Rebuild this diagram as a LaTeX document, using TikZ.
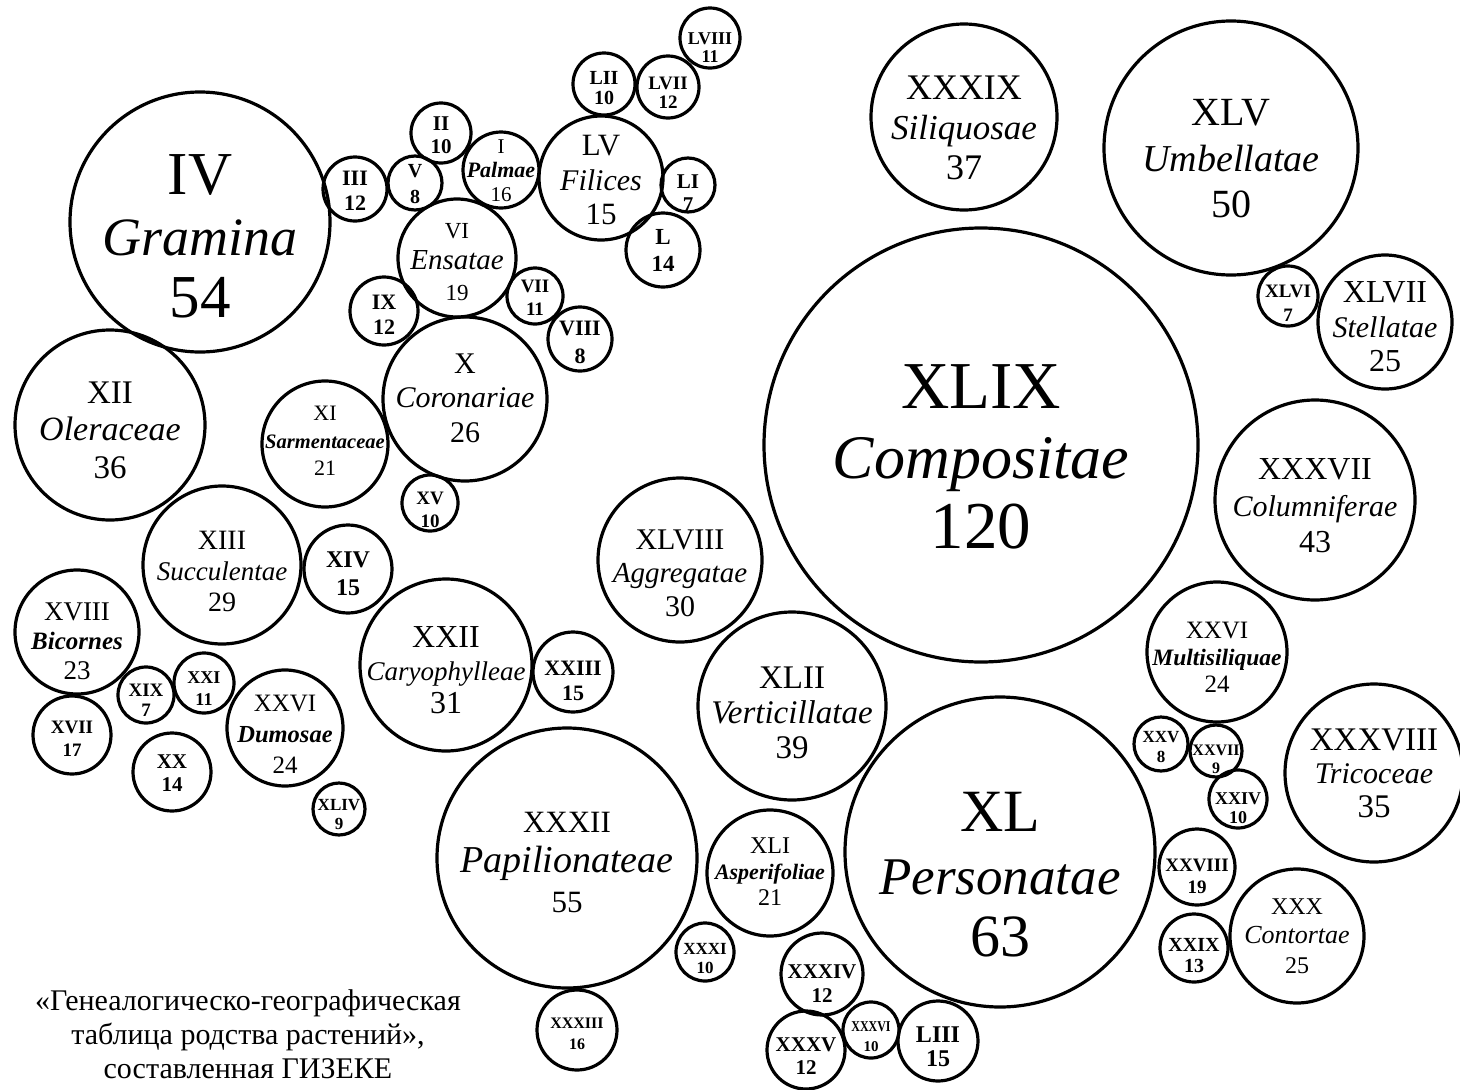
\documentclass[tikz,border=0pt]{standalone}
\usepackage{fontspec}
\usepackage{graphicx}
\setmainfont{Liberation Serif}
\newcommand\ftwo{20}
\newcommand\nm[1]{{\fontsize{\ftwo}{\ftwo}\selectfont\itshape #1}}
\newcommand\nmb[1]{{\fontsize{\ftwo}{\ftwo}\selectfont\bfseries\itshape #1}}
\tikzset{
  ring/.style={draw, circle, line width=3.2pt, inner sep=0pt, outer sep=0pt},
  lbl/.style={align=center, inner sep=0pt}
}
% name, cx, cy, r, text-y, f1, f2, baselineskip, text
\newcommand\famc[9]{%
  \node[ring, minimum size={2*#4pt}] (#1) at (#2,#3) {};
  \renewcommand\ftwo{#7}%
  \node[lbl, font=\fontsize{#6}{#8}\selectfont] (#1t) at (#2,#5) {#9};
}
% name, cx, cy, r, text-y, f, baselineskip, text
\newcommand\smc[8]{%
  \node[ring, minimum size={2*#4pt}] (#1) at (#2,#3) {};
  \node[lbl, font=\fontsize{#6}{#7}\selectfont\bfseries] (#1t) at (#2,#5) {#8};
}
\begin{document}
\begin{tikzpicture}[x=1pt,y=-1pt]
\useasboundingbox[fill=white] (0,0) rectangle (1460,1090);
% large families
\famc{c4}{200}{222}{130}{236}{61}{54}{61.5}{IV\\\nm{Gramina}\\54}
\famc{c39}{964}{117}{93}{128}{36}{35}{40}{XXXIX\\\nm{Siliquosae}\\37}
\famc{c45}{1231}{148}{127}{159}{40}{38}{46}{XLV\\\nm{Umbellatae}\\50}
\famc{c49}{981}{445}{217}{457}{67}{62}{70}{XLIX\\\nm{Compositae}\\120}
\famc{c47}{1385}{322}{67}{327}{32}{30}{34.5}{XLVII\\\nm{Stellatae}\\25}
\famc{c37}{1315}{500}{100}{506}{32}{30}{36.5}{XXXVII\\\nm{Columniferae}\\43}
\famc{c12}{110}{425}{95}{430}{33}{34}{37.5}{XII\\\nm{Oleraceae}\\36}
\famc{c10}{465}{399}{82}{398}{30}{30}{34.5}{X\\\nm{Coronariae}\\26}
\famc{c11}{325}{444}{63}{441}{22}{20.5}{27.5}{XI\\\nmb{Sarmentaceae}\\21}
\famc{c6}{457}{258}{59}{262}{23}{29}{31}{VI\\\nm{Ensatae}\\19}
\famc{c1}{501}{170}{38}{171}{21}{22}{24}{I\\\nmb{Palmae}\\16}
\famc{c55}{601}{178}{62}{180}{31}{30}{34.5}{LV\\\nm{Filices}\\15}
\famc{c13}{222}{565}{79}{571}{28}{27}{31}{XIII\\\nm{Succulentae}\\29}
\famc{c18}{77}{632}{62}{641}{27}{25}{29.5}{XVIII\\\nmb{Bicornes}\\23}
\famc{c26a}{285}{728}{58}{734}{25}{24.5}{31}{XXVI\\\nmb{Dumosae}\\24}
\famc{c22}{446}{665}{86}{670}{32}{27}{33}{XXII\\\nm{Caryophylleae}\\31}
\famc{c48}{680}{560}{82}{573}{30}{29}{33.5}{XLVIII\\\nm{Aggregatae}\\30}
\famc{c42}{792}{706}{94}{713}{33}{33}{35}{XLII\\\nm{Verticillatae}\\39}
\famc{c32}{567}{858}{130}{862}{31}{38}{40}{XXXII\\\nm{Papilionateae}\\55}
\famc{c41}{770}{873}{63}{872}{24}{22}{26}{XLI\\\nmb{Asperifoliae}\\21}
\famc{c40}{1000}{852}{155}{875}{60}{53}{62.5}{XL\\\nm{Personatae}\\63}
\famc{c26b}{1217}{652}{70}{657}{25}{23.5}{27}{XXVI\\\nmb{Multisiliquae}\\24}
\famc{c38}{1374}{773}{89}{773}{33}{30}{33.5}{XXXVIII\\\nm{Tricoceae}\\35}
\famc{c30}{1297}{936}{67}{936}{24}{26}{29.5}{XXX\\\nm{Contortae}\\25}
% small families
\smc{c3}{355}{189}{32}{191}{22}{25}{III\\12}
\smc{c5}{415}{183}{27}{184}{20}{26}{V\\8}
\smc{c2}{441}{133}{30}{135}{21}{23}{II\\10}
\smc{c52}{604}{84}{31}{88}{20}{20}{LII\\10}
\smc{c57}{668}{87}{31}{93}{19}{19}{LVII\\12}
\smc{c58}{710}{38}{30}{48}{18}{18}{LVIII\\11}
\smc{c51}{688}{185}{27}{193}{21}{23}{LI\\7}
\smc{c50}{663}{250}{37}{250}{23}{27}{L\\14}
\smc{c7}{535}{296}{28}{298}{19}{23}{VII\\11}
\smc{c8}{580}{339}{32}{342}{22}{28}{VIII\\8}
\smc{c9}{384}{311}{34}{315}{22}{25}{IX\\12}
\smc{c15}{430}{503}{28}{510}{19}{23}{XV\\10}
\smc{c14}{348}{569}{44}{574}{24}{28}{XIV\\15}
\smc{c17}{72}{735}{39}{739}{19}{23}{XVII\\17}
\smc{c19}{146}{695}{28}{700}{19}{20}{XIX\\7}
\smc{c21}{204}{683}{30}{689}{18}{22}{XXI\\11}
\smc{c20}{172}{772}{39}{773}{21}{23}{XX\\14}
\smc{c44}{339}{809}{26}{815}{17}{19}{XLIV\\9}
\smc{c23}{573}{672}{40}{681}{22}{25}{XXIII\\15}
\smc{c31}{705}{952}{29}{959}{17}{19}{XXXI\\10}
\smc{c34}{822}{974}{41}{984}{21}{24}{XXXIV\\12}
\smc{c35}{806}{1050}{39}{1056}{21}{23}{XXXV\\12}
\smc{c36}{871}{1030}{28}{1037}{15}{20}{\scalebox{0.8}[1]{XXXVI}\\10}
\smc{c53}{938}{1041}{40}{1047}{24}{24}{LIII\\15}
\smc{c33}{577}{1030}{40}{1034}{16}{21}{XXXIII\\16}
\smc{c46}{1288}{296}{30}{303}{19}{24}{XLVI\\7}
\smc{c25}{1161}{744}{27}{747}{17}{20}{XXV\\8}
\smc{c27}{1216}{751}{26}{759}{16}{18}{XXVII\\9}
\smc{c24}{1238}{799}{29}{808}{18}{19}{XXIV\\10}
\smc{c28}{1197}{867}{38}{876}{19}{22}{XXVIII\\19}
\smc{c29}{1194}{948}{34}{956}{20}{21}{XXIX\\13}
% caption
\node[lbl, font=\fontsize{30}{34}\selectfont] (caption) at (248,1034)
  {«Генеалогическо-географическая\\таблица родства растений»,\\составленная ГИЗЕКЕ};
\end{tikzpicture}
\end{document}
